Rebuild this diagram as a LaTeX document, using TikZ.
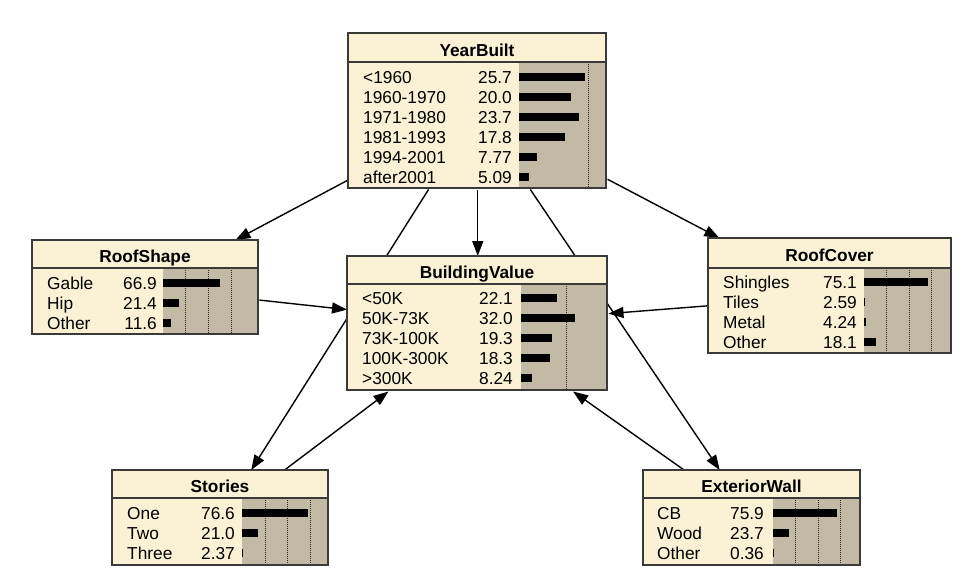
\documentclass[tikz,border=0pt]{standalone}
\usepackage{fontspec}
\setmainfont{Liberation Sans}
\usetikzlibrary{arrows.meta, backgrounds}
\definecolor{NodeCream}{HTML}{FBF1D4}
\definecolor{BarGray}{HTML}{C3BAA6}
\definecolor{FrameGray}{HTML}{3A3A3A}

\begin{document}
\begin{tikzpicture}[x=1pt, y=-1pt]
    \tikzstyle{netbox} = [rectangle, fill=NodeCream, anchor=north west, inner sep=0pt, outer sep=0.75pt]
    \tikzstyle{frame} = [draw=FrameGray, line width=1.5pt]
    \tikzstyle{zone} = [fill=BarGray]
    \tikzstyle{scalemark} = [draw=black!85, dash pattern=on 1pt off 1pt, line width=0.9pt]
    \tikzstyle{belief} = [fill=black]
    \tikzstyle{headtext} = [anchor=base, inner sep=0pt, font=\fontsize{17.3}{20}\selectfont\bfseries]
    \tikzstyle{statetext} = [anchor=base west, inner sep=0pt, font=\fontsize{17.3}{20}\selectfont]
    \tikzstyle{valtext} = [anchor=base east, inner sep=0pt, font=\fontsize{17.3}{20}\selectfont]
    \tikzstyle{link} = [draw=black, line width=1.4pt, -{Triangle[length=15pt, width=11pt]}]

    \useasboundingbox (0,0) rectangle (965,571);

    % YearBuilt
    \node [netbox, minimum width=258pt, minimum height=155pt] (yb) at (348,33) {};
    \fill [zone] (519,62) rectangle (606,188);
    \draw [scalemark] (588,62) -- (588,188);
    \node [headtext] (yb-t) at (477,56) {YearBuilt};
    \foreach \st/\pv/\len [count=\i] in {<1960/25.7/66, 1960-1970/20.0/52, 1971-1980/23.7/60, 1981-1993/17.8/46, 1994-2001/7.77/18, after2001/5.09/10} {
        \node [statetext] (yb-s\i) at (363,63+20*\i) {\st};
        \node [valtext] (yb-v\i) at (512,63+20*\i) {\pv};
        \fill [belief] (519,53+20*\i) rectangle ++(\len,8);
    }
    \draw [frame] (348,33) rectangle (606,188);
    \draw [frame] (348,62) -- (606,62);

    % BuildingValue
    \node [netbox, minimum width=260pt, minimum height=134pt] (bv) at (347,256) {};
    \fill [zone] (521,284) rectangle (607,390);
    \draw [scalemark] (566,284) -- (566,390);
    \node [headtext] (bv-t) at (477,278) {BuildingValue};
    \foreach \st/\pv/\len [count=\i] in {<50K/22.1/36, 50K-73K/32.0/54, 73K-100K/19.3/31, 100K-300K/18.3/29, >300K/8.24/11} {
        \node [statetext] (bv-s\i) at (362,284+20*\i) {\st};
        \node [valtext] (bv-v\i) at (513,284+20*\i) {\pv};
        \fill [belief] (521,274+20*\i) rectangle ++(\len,8);
    }
    \draw [frame] (347,256) rectangle (607,390);
    \draw [frame] (347,284) -- (607,284);

    % RoofShape
    \node [netbox, minimum width=226pt, minimum height=94pt] (rs) at (32,240) {};
    \fill [zone] (163,268) rectangle (258,334);
    \foreach \x in {185,208,231}
        \draw [scalemark] (\x,268) -- (\x,334);
    \node [headtext] (rs-t) at (145,262) {RoofShape};
    \foreach \st/\pv/\len [count=\i] in {Gable/66.9/57, Hip/21.4/16, Other/11.6/8} {
        \node [statetext] (rs-s\i) at (47,269+20*\i) {\st};
        \node [valtext] (rs-v\i) at (157,269+20*\i) {\pv};
        \fill [belief] (163,259+20*\i) rectangle ++(\len,8);
    }
    \draw [frame] (32,240) rectangle (258,334);
    \draw [frame] (32,268) -- (258,268);

    % RoofCover
    \node [netbox, minimum width=243pt, minimum height=115pt] (rc) at (708,238) {};
    \fill [zone] (864,268) rectangle (951,353);
    \foreach \x in {886,909,931}
        \draw [scalemark] (\x,268) -- (\x,353);
    \node [headtext] (rc-t) at (829.5,261) {RoofCover};
    \foreach \st/\pv/\len [count=\i] in {Shingles/75.1/64, Tiles/2.59/1, Metal/4.24/2, Other/18.1/12} {
        \node [statetext] (rc-s\i) at (723,268+20*\i) {\st};
        \node [valtext] (rc-v\i) at (857,268+20*\i) {\pv};
        \fill [belief] (864,258+20*\i) rectangle ++(\len,8);
    }
    \draw [frame] (708,238) rectangle (951,353);
    \draw [frame] (708,268) -- (951,268);

    % Stories
    \node [netbox, minimum width=216pt, minimum height=95pt] (st) at (112,470) {};
    \fill [zone] (242,498) rectangle (328,565);
    \foreach \x in {265,287.5,310}
        \draw [scalemark] (\x,498) -- (\x,565);
    \node [headtext] (st-t) at (220,492) {Stories};
    \foreach \st/\pv/\len [count=\i] in {One/76.6/66, Two/21.0/16, Three/2.37/1} {
        \node [statetext] (st-s\i) at (127,499+20*\i) {\st};
        \node [valtext] (st-v\i) at (235,499+20*\i) {\pv};
        \fill [belief] (242,489+20*\i) rectangle ++(\len,8);
    }
    \draw [frame] (112,470) rectangle (328,565);
    \draw [frame] (112,498) -- (328,498);

    % ExteriorWall
    \node [netbox, minimum width=217pt, minimum height=95pt] (ew) at (643,470) {};
    \fill [zone] (773,498) rectangle (860,565);
    \foreach \x in {795,818,840}
        \draw [scalemark] (\x,498) -- (\x,565);
    \node [headtext] (ew-t) at (751.5,492) {ExteriorWall};
    \foreach \st/\pv/\len [count=\i] in {CB/75.9/64, Wood/23.7/16, Other/0.36/0.5} {
        \node [statetext] (ew-s\i) at (657,499+20*\i) {\st};
        \node [valtext] (ew-v\i) at (764,499+20*\i) {\pv};
        \fill [belief] (773,489+20*\i) rectangle ++(\len,8);
    }
    \draw [frame] (643,470) rectangle (860,565);
    \draw [frame] (643,498) -- (860,498);

    % links
    \begin{scope}[on background layer]
        \draw [link] (yb) -- (rs);
        \draw [link] (yb) -- (rc);
        \draw [link] (yb) -- (bv);
        \draw [link] (yb) -- (st);
        \draw [link] (yb) -- (ew);
        \draw [link] (rs) -- (bv);
        \draw [link] (rc) -- (bv);
        \draw [link] (st) -- (bv);
        \draw [link] (ew) -- (bv);
    \end{scope}
\end{tikzpicture}
\end{document}
